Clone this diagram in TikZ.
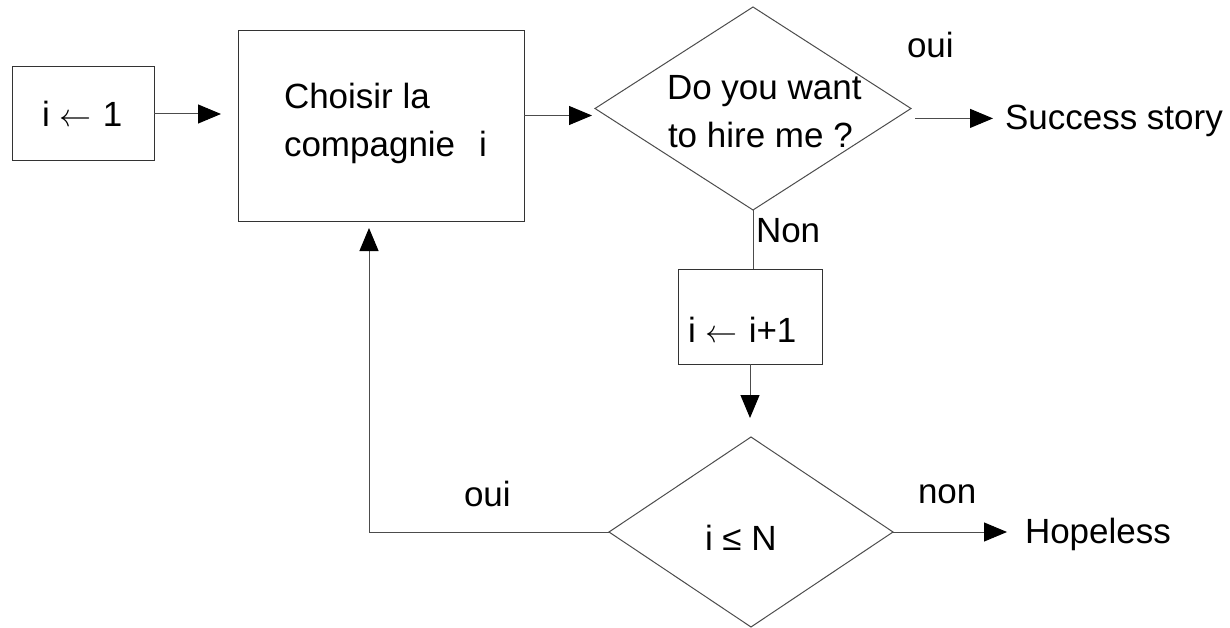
\documentclass[tikz,border=0pt]{standalone}
\usepackage{fontspec}
\setmainfont{Liberation Sans}
\usetikzlibrary{arrows.meta,shapes.geometric}
\newcommand{\larr}{\resizebox{32pt}{!}{$\leftarrow$}}
\begin{document}
\begin{tikzpicture}[x=1pt,y=-1pt,
  every node/.style={inner sep=0pt,outer sep=0pt},
  boxnode/.style={draw=black!80,line width=1pt,rectangle},
  decision/.style={draw=black!70,line width=1pt,diamond},
  txt/.style={font=\fontsize{35}{42}\selectfont,anchor=base west,text=black},
  conn/.style={draw=black!70,line width=1pt},
  arr/.style={conn,-{Triangle[length=23pt,width=19pt,color=black,fill=black]}}]
\useasboundingbox (0,0) rectangle (1230,628);
% shapes
\node[boxnode,minimum width=142pt,minimum height=94pt] (b1) at (83,114) {};
\node[boxnode,minimum width=286pt,minimum height=191pt] (b2) at (381,126.5) {};
\node[decision,minimum width=316pt,minimum height=203pt] (d1) at (753,108.5) {};
\node[boxnode,minimum width=144pt,minimum height=95pt] (b3) at (750,316.5) {};
\node[decision,minimum width=284pt,minimum height=190pt] (d2) at (751,532) {};
% texts
\node[txt] (t1) at (42,127) {i\hspace{10pt}\larr\hspace{11pt}1};
\node[txt] (t2a) at (284,109) {Choisir la};
\node[txt] (t2b) at (284,157) {compagnie\hspace{24pt}i};
\node[txt] (t3a) at (667,100) {Do you want};
\node[txt] (t3b) at (668,148) {to hire me ?};
\node[txt] (t4) at (688,342) {i\hspace{10pt}\larr\hspace{11pt}i+1};
\node[txt] (t5) at (705,550) {i ≤ N};
\node[txt] (succ) at (1005,130) {Success story};
\node[txt] (hope) at (1025,543) {Hopeless};
\node[txt] (l1) at (907,58) {oui};
\node[txt] (l2) at (756,242) {Non};
\node[txt] (l3) at (464,506) {oui};
\node[txt] (l4) at (918,503) {non};
% connectors
\draw[arr,shorten >=17pt] (b1.east) -- (b1.east -| b2.west);
\coordinate (d1in) at ([yshift=-7pt]d1.west);
\draw[arr,shorten >=3pt] (b2.east |- d1in) -- (d1in);
\coordinate (sin) at ([xshift=-12pt,yshift=3pt]succ.west);
\draw[arr] ([xshift=4pt]d1.east |- sin) -- (sin);
\draw[conn] (d1.south) -- (d1.south |- b3.north);
\draw[arr,shorten >=19pt] (b3.south) -- (b3.south |- d2.north);
\coordinate (hin) at ([xshift=-18pt]hope.west |- d2.east);
\draw[arr] (d2.east) -- (hin);
\coordinate (b2in) at ([xshift=-12pt]b2.south);
\draw[arr,shorten >=6pt] (d2.west) -| (b2in);
\end{tikzpicture}
\end{document}
